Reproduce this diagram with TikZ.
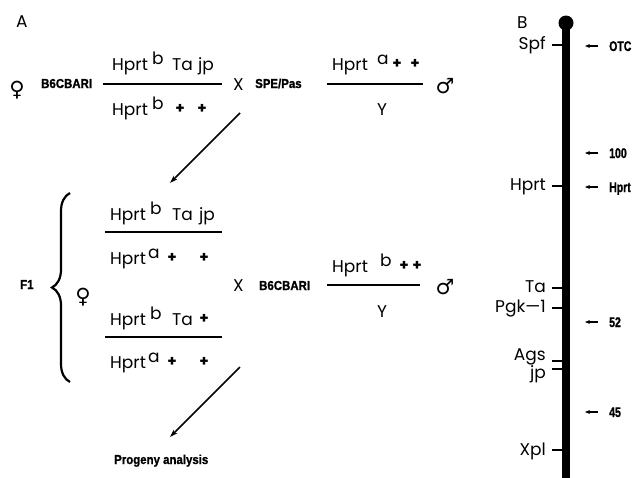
\documentclass[tikz,border=0pt]{standalone}
\usepackage{fontspec}
\setmainfont{Poppins}
\newfontfamily\symfont{DejaVu Sans}
\newfontfamily\labfont[FakeStretch=0.88,FakeBold=1.2]{Liberation Sans Bold}
\newfontfamily\rlabfont[FakeStretch=0.75,FakeBold=1.2]{Liberation Sans Bold}
\usetikzlibrary{decorations.pathreplacing,arrows.meta}
\begin{document}
\begin{tikzpicture}[x=1pt,y=-1pt,
 gen/.style={font=\fontsize{17}{17}\selectfont, inner sep=0pt, anchor=base west},
 genr/.style={font=\fontsize{17}{17}\selectfont, inner sep=0pt, anchor=base east},
 pls/.style={font=\bfseries\fontsize{15}{15}\selectfont, inner sep=0pt, anchor=base},
 lab/.style={font=\labfont\fontsize{13}{13}\selectfont, inner sep=0pt, anchor=base west},
 rlab/.style={font=\rlabfont\fontsize{14}{14}\selectfont, inner sep=0pt, anchor=base west},
 sym/.style={font=\symfont\fontsize{21}{21}\selectfont, inner sep=0pt, anchor=base},
 fbar/.style={line width=1.3pt},
 tk/.style={line width=1.4pt},
 flow/.style={line width=1.6pt,-{Stealth[length=8pt,width=5pt]}},
 ptr/.style={line width=1.2pt,-{Stealth[length=5pt,width=4pt]}},
 chr/.style={line width=8.5pt},
]
\useasboundingbox (0,0) rectangle (636,477);

% ---------- Panel A, first cross ----------
\node[gen] (A) at (16,27) {A};
\node[sym] (fem1) at (17,96) {♀};
\node[lab] (bcb1) at (41,88) {B6CBARI};
\draw[fbar] (103,84) -- (222,84);
\node[gen] (n1h) at (112,70) {Hprt};
\node[gen] (n1b) at (152,64) {b};
\node[gen] (n1t) at (172,70) {Ta};
\node[gen] (n1j) at (198,70) {jp};
\node[gen] (d1h) at (112,115) {Hprt};
\node[gen] (d1b) at (152,109) {b};
\node[pls] (d1p1) at (180,113) {+};
\node[pls] (d1p2) at (202,113) {+};
\node[gen] (x1) at (233,90) {X};
\node[lab] (spe) at (255,88) {SPE/Pas};
\draw[fbar] (327,84) -- (423,84);
\node[gen] (n2h) at (332,70) {Hprt};
\node[gen] (n2a) at (377,64) {a};
\node[pls] (n2p1) at (397,68) {+};
\node[pls] (n2p2) at (415,68) {+};
\node[gen, anchor=base] (y1) at (382,115) {Y};
\node[sym] (mal1) at (445,93) {♂};

\coordinate (a1s) at (240,113);
\coordinate (a1e) at (170,183);
\draw[flow] (a1s) -- (a1e);

% ---------- Panel A, F1 cross ----------
\node[lab] (f1) at (20,289) {F1};
\draw[line width=2.2pt, decorate, decoration={brace,amplitude=18pt}] (70,382) -- (70,193);
\node[sym] (fem2) at (83,303) {♀};

\draw[fbar] (105,232) -- (222,232);
\node[gen] (n3h) at (110,220) {Hprt};
\node[gen] (n3b) at (150,214) {b};
\node[gen] (n3t) at (172,220) {Ta};
\node[gen] (n3j) at (199,220) {jp};
\node[gen] (d3h) at (110,264) {Hprt};
\node[gen] (d3a) at (148,258) {a};
\node[pls] (d3p1) at (172,262) {+};
\node[pls] (d3p2) at (204,262) {+};

\draw[fbar] (105,337) -- (222,337);
\node[gen] (n4h) at (110,325) {Hprt};
\node[gen] (n4b) at (150,319) {b};
\node[gen] (n4t) at (172,325) {Ta};
\node[pls] (n4p) at (204,323) {+};
\node[gen] (d4h) at (110,368) {Hprt};
\node[gen] (d4a) at (148,362) {a};
\node[pls] (d4p1) at (172,366) {+};
\node[pls] (d4p2) at (204,366) {+};

\node[gen] (x2) at (233,291) {X};
\node[lab] (bcb2) at (259,290) {B6CBARI};
\draw[fbar] (327,285) -- (420,285);
\node[gen] (n5h) at (332,272) {Hprt};
\node[gen] (n5b) at (380,266) {b};
\node[pls] (n5p1) at (404,270) {+};
\node[pls] (n5p2) at (417,270) {+};
\node[gen, anchor=base] (y2) at (382,317) {Y};
\node[sym] (mal2) at (445,294) {♂};

\coordinate (a2s) at (240,367);
\coordinate (a2e) at (170,437);
\draw[flow] (a2s) -- (a2e);
\node[lab] (prog) at (114,464) {Progeny analysis};

% ---------- Panel B ----------
\node[gen] (B) at (517,28) {B};
\draw[chr] (566,23) -- (566,480);
\fill (566,23) circle (7.5);

\draw[tk] (552,45) -- (562,45);
\node[genr] (spf) at (546,49) {Spf};
\draw[tk] (552,186) -- (562,186);
\node[genr] (hprtL) at (546,190) {Hprt};
\draw[tk] (552,288) -- (562,288);
\node[genr] (ta) at (546,292) {Ta};
\draw[tk] (552,308) -- (562,308);
\node[genr] (pgk) at (546,312) {Pgk—1};
\draw[tk] (552,361) -- (562,361);
\node[genr] (ags) at (546,360) {Ags};
\draw[tk] (552,369) -- (562,369);
\node[genr] (jp) at (546,378) {jp};
\draw[tk] (552,450) -- (562,450);
\node[genr] (xpl) at (546,455) {Xpl};

\draw[ptr] (598,46) -- (585,46);
\node[rlab] (otc) at (609,51) {OTC};
\draw[ptr] (598,153) -- (585,153);
\node[rlab] (c100) at (609,158) {100};
\draw[ptr] (598,187) -- (585,187);
\node[rlab] (hprtR) at (609,192) {Hprt};
\draw[ptr] (598,322) -- (585,322);
\node[rlab] (c52) at (609,327) {52};
\draw[ptr] (598,412) -- (585,412);
\node[rlab] (c45) at (609,417) {45};
\end{tikzpicture}
\end{document}
